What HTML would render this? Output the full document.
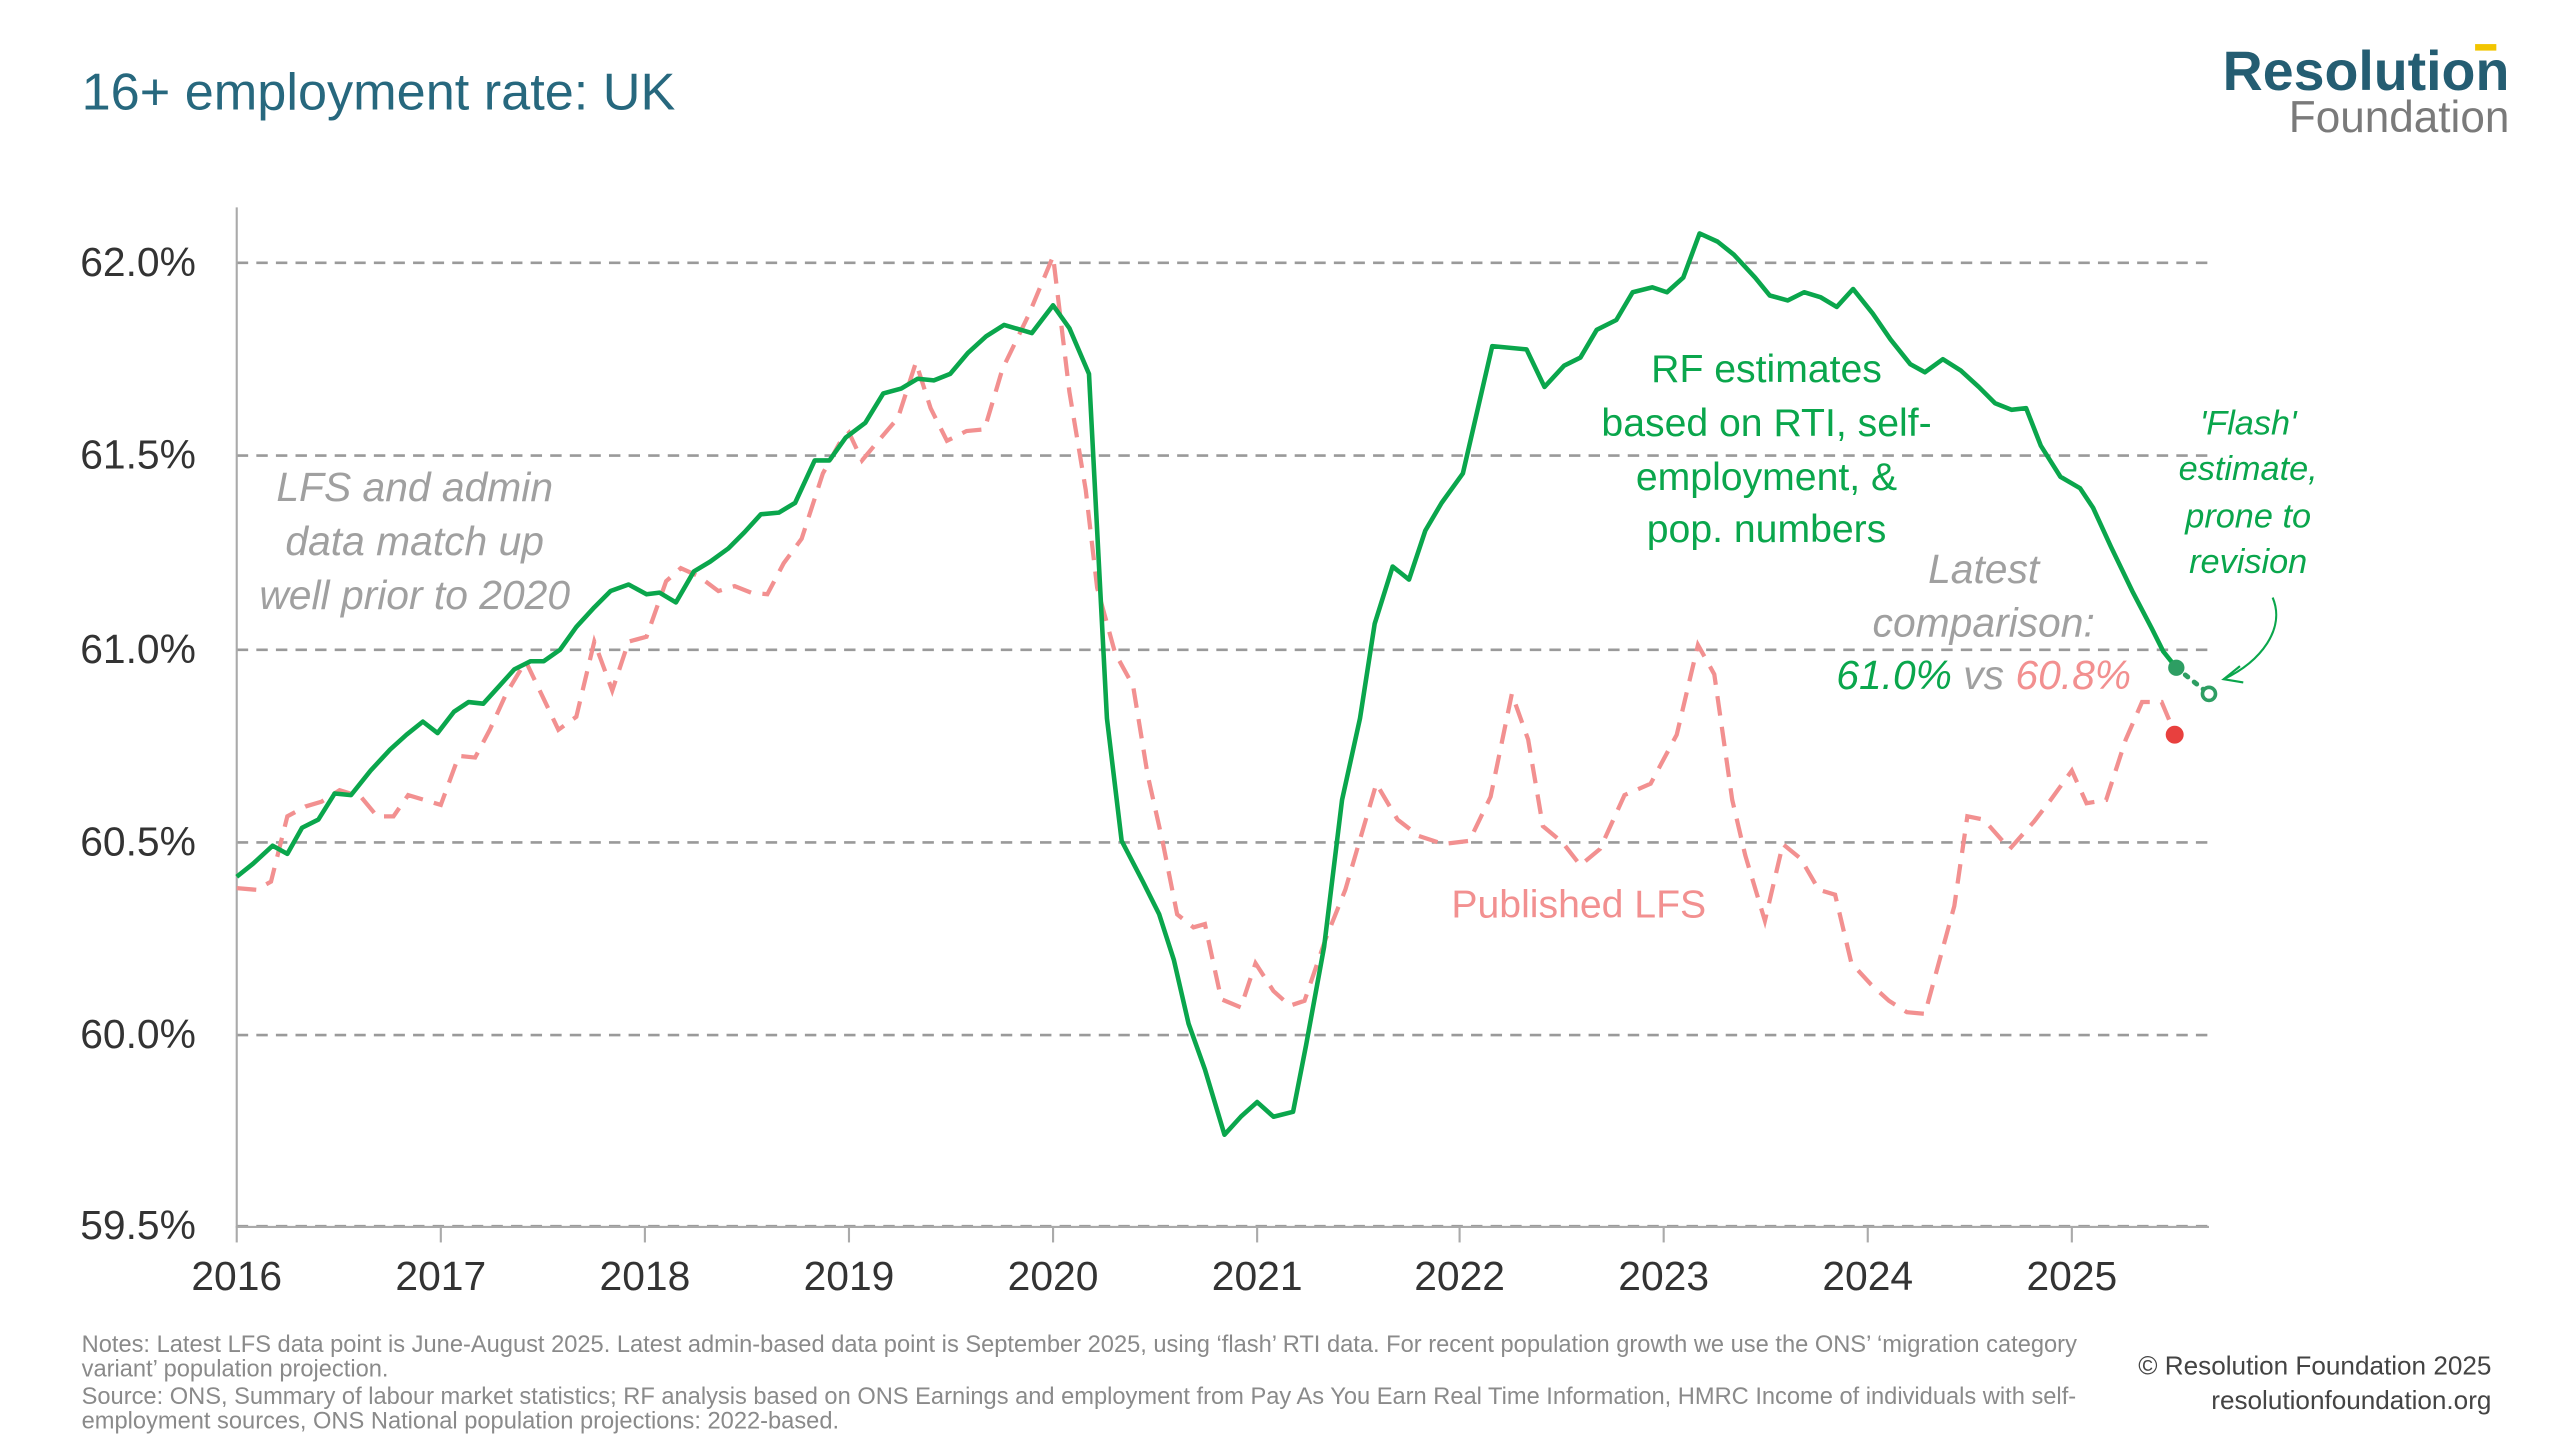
<!DOCTYPE html>
<html><head><meta charset="utf-8"><style>
html,body{margin:0;padding:0;background:#fff;}
svg{display:block;}
text{font-family:"Liberation Sans",sans-serif;}
</style></head><body>
<svg width="2560" height="1440" viewBox="0 0 1568 882" xmlns="http://www.w3.org/2000/svg">
<text x="50" y="67" font-size="32" fill="#27687e">16+ employment rate: UK</text>
<text x="1537" y="55" font-size="34" font-weight="bold" fill="#245d72" text-anchor="end">Resolution</text>
<rect x="1516" y="27" width="13" height="4" fill="#f2c500"/>
<text x="1537" y="81" font-size="27" fill="#7a7a7a" text-anchor="end">Foundation</text>

<g stroke="#9a9a9a" stroke-width="1.6" stroke-dasharray="7,5">
<line x1="145" y1="161" x2="1353" y2="161"/>
<line x1="145" y1="279" x2="1353" y2="279"/>
<line x1="145" y1="398" x2="1353" y2="398"/>
<line x1="145" y1="516" x2="1353" y2="516"/>
<line x1="145" y1="634" x2="1353" y2="634"/>
<line x1="145" y1="751" x2="1353" y2="751"/>
</g>
<line x1="145" y1="127" x2="145" y2="752" stroke="#aaa" stroke-width="1.3"/>
<line x1="145" y1="751.5" x2="1353" y2="751.5" stroke="#aaa" stroke-width="1.3"/>
<g stroke="#aaa" stroke-width="1.3">
<line x1="145" y1="751" x2="145" y2="761"/><line x1="270" y1="751" x2="270" y2="761"/><line x1="395" y1="751" x2="395" y2="761"/><line x1="520" y1="751" x2="520" y2="761"/><line x1="645" y1="751" x2="645" y2="761"/><line x1="770" y1="751" x2="770" y2="761"/><line x1="894" y1="751" x2="894" y2="761"/><line x1="1019" y1="751" x2="1019" y2="761"/><line x1="1144" y1="751" x2="1144" y2="761"/><line x1="1269" y1="751" x2="1269" y2="761"/>
</g>
<g font-size="25" fill="#333" text-anchor="end">
<text x="120" y="169">62.0%</text><text x="120" y="287">61.5%</text><text x="120" y="406">61.0%</text><text x="120" y="524">60.5%</text><text x="120" y="642">60.0%</text><text x="120" y="759">59.5%</text>
</g>
<g font-size="25" fill="#333" text-anchor="middle">
<text x="145" y="790">2016</text><text x="270" y="790">2017</text><text x="395" y="790">2018</text><text x="520" y="790">2019</text><text x="645" y="790">2020</text><text x="770" y="790">2021</text><text x="894" y="790">2022</text><text x="1019" y="790">2023</text><text x="1144" y="790">2024</text><text x="1269" y="790">2025</text>
</g>

<polyline fill="none" stroke="#f29090" stroke-width="2.6" stroke-dasharray="12,7" points="145,544 157,545 166,540 176,500 187,494 197,491 208,484 221,488 231,500 241,500 250,487 260,490 270,493 281,463 291,464 300,447 310,425 322,405 333,428 342,447 353,439 364,393 375,423 385,393 396,390 408,356 417,348 428,353 440,362 450,359 460,363 470,364 480,345 491,330 504,290 515,270 520,265 528,282 538,270 550,256 561,222 570,250 580,270 592,264 603,263 614,226 630,193 645,157 655,240 665,300 672,360 683,400 694,420 703,475 712,515 721,560 731,568 738,566 748,612 760,617 769,590 780,607 790,616 799,613 812,575 824,545 843,480 856,502 869,512 884,517 900,515 913,488 926,425 936,453 945,506 957,516 968,530 980,520 995,487 1011,480 1027,450 1040,395 1050,413 1061,490 1069,524 1081,564 1092,517 1103,526 1114,545 1124,548 1134,590 1146,603 1157,613 1168,620 1179,621 1197,555 1205,500 1215,502 1231,520 1246,503 1256,490 1269,472 1278,492 1290,490 1302,453 1312,430 1324,430 1332,449"/>
<polyline fill="none" stroke="#0aa64c" stroke-width="2.8" stroke-linejoin="round" points="145,537 155,529 167,518 176,523 185,507 195,502 205,486 215,487 227,472 239,459 249,450 259,442 268,449 278,436 287,430 296,431 306,420 315,410 325,405 333,405 343,398 353,384 364,372 374,362 385,358 396,364 404,363 414,369 425,350 435,344 446,336 456,326 466,315 477,314 487,308 499,282 508,282 518,268 530,259 541,241 552,238 562,232 572,233 582,229 593,216 604,206 615,199 632,204 645,187 655,201 667,229 678,440 687,515 700,540 710,560 719,588 728,627 738,655 750,695 760,684 770,675 780,684 792,681 800,640 811,580 822,490 833,440 842,382 853,347 863,355 873,325 883,308 896,290 914,212 935,214 946,237 958,224 968,219 978,202 990,196 1000,179 1012,176 1021,179 1031,170 1041,143 1052,148 1062,156 1075,170 1084,181 1095,184 1105,179 1115,182 1125,188 1135,177 1147,192 1158,208 1170,223 1179,228 1190,220 1201,227 1212,237 1222,247 1232,251 1241,250 1250,273 1262,292 1274,299 1282,311 1293,335 1306,362 1318,385 1325,399 1333,409"/>
<line x1="1333" y1="409" x2="1353" y2="425" stroke="#2e9e63" stroke-width="3" stroke-dasharray="2,5" stroke-linecap="round"/>
<circle cx="1333" cy="409" r="5" fill="#2e9e63"/>
<circle cx="1353" cy="425" r="4" fill="#fff" stroke="#2e9e63" stroke-width="2.2"/>
<circle cx="1332" cy="450" r="5.5" fill="#e8403e"/>

<g font-size="25" fill="#a0a0a0" font-style="italic" text-anchor="middle">
<text x="254" y="307">LFS and admin</text><text x="254" y="340">data match up</text><text x="254" y="373">well prior to 2020</text>
<text x="1215" y="357">Latest</text><text x="1215" y="390">comparison:</text>
<text x="1215" y="422"><tspan fill="#0aa64c">61.0%</tspan> vs <tspan fill="#f29090">60.8%</tspan></text>
</g>
<g font-size="24" fill="#0aa64c" text-anchor="middle">
<text x="1082" y="234">RF estimates</text><text x="1082" y="267">based on RTI, self-</text><text x="1082" y="300">employment, &amp;</text><text x="1082" y="332">pop. numbers</text>
</g>
<text x="967" y="562" font-size="24" fill="#f29090" text-anchor="middle">Published LFS</text>
<g font-size="21" fill="#0aa64c" font-style="italic" text-anchor="middle">
<text x="1377" y="266">'Flash'</text><text x="1377" y="294">estimate,</text><text x="1377" y="323">prone to</text><text x="1377" y="351">revision</text>
</g>
<path d="M1392,366 C1400,385 1385,405 1362,416" fill="none" stroke="#0aa64c" stroke-width="1.3"/>
<path d="M1372,408 L1362,416 L1374,418" fill="none" stroke="#0aa64c" stroke-width="1.3"/>

<g font-size="14.5" fill="#8a8a8a">
<text x="50" y="828">Notes: Latest LFS data point is June-August 2025. Latest admin-based data point is September 2025, using ‘flash’ RTI data. For recent population growth we use the ONS’ ‘migration category</text>
<text x="50" y="843">variant’ population projection.</text>
<text x="50" y="860">Source: ONS, Summary of labour market statistics; RF analysis based on ONS Earnings and employment from Pay As You Earn Real Time Information, HMRC Income of individuals with self-</text>
<text x="50" y="875">employment sources, ONS National population projections: 2022-based.</text>
</g>
<g font-size="16" fill="#444" text-anchor="end">
<text x="1526" y="842">© Resolution Foundation 2025</text>
<text x="1526" y="863">resolutionfoundation.org</text>
</g>
</svg>
</body></html>
